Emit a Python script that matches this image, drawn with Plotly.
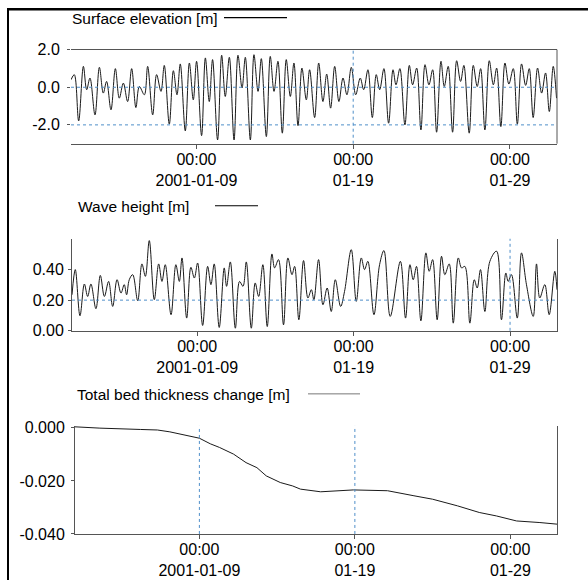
import pandas as pd
import plotly.graph_objects as go

# ---------------- data (days after 2001-01-01 00:00) ----------------
START = "2001-01-01"

elev_days = [0.00, 0.21, 0.49, 0.79, 1.00, 1.21, 1.53, 1.81, 2.06, 2.27, 2.55, 2.83, 3.08, 3.34,
             3.61, 3.87, 4.14, 4.36, 4.68, 4.89, 5.21, 5.46, 5.74, 5.95, 6.27, 6.53, 6.76, 6.97,
             7.29, 7.55, 7.80, 8.01, 8.33, 8.57, 8.82, 9.03, 9.35, 9.61, 9.84, 10.10,
             10.40, 10.65, 10.91, 11.12, 11.44, 11.67, 11.93, 12.14, 12.46, 12.71, 12.95, 13.20,
             13.48, 13.73, 13.99, 14.22, 14.48, 14.73, 15.01, 15.22, 15.54, 15.80, 16.07, 16.31,
             16.56, 16.82, 17.09, 17.35, 17.60, 17.88, 18.16, 18.45, 18.67, 18.94, 19.22, 19.47,
             19.69, 19.96, 20.26, 20.54,
             20.73, 20.98, 21.30, 21.58, 21.79, 22.05, 22.32, 22.58, 22.83, 23.07, 23.32, 23.60,
             23.81, 24.06, 24.34, 24.60, 24.85, 25.06, 25.40, 25.66, 25.91, 26.13, 26.40, 26.68,
             26.94, 27.15, 27.42, 27.68, 27.93, 28.21, 28.47, 28.74, 29.00, 29.23, 29.48, 29.76,
             30.02, 30.27, 30.51, 30.76, 30.97]
elev_vals = [0.40, 0.67, -1.79, 1.11, -0.13, 0.49, -1.47, 1.06, -0.31, 0.31, -1.20, 0.99, -0.58, 0.22,
             -0.76, 0.99, -1.08, 0.04, -0.40, 1.11, -1.47, 0.67, -0.22, 1.16, -1.96, 0.88, -0.40, 1.24,
             -2.32, 1.29, -0.67, 1.38, -2.57, 1.56, -0.76, 1.47, -2.80, 1.70, -0.49, 1.59,
             -2.80, 1.70, -0.04, 1.59, -2.80, 1.73, -0.22, 1.52, -2.62, 1.64, -0.22, 1.38,
             -2.44, 1.47, -0.49, 1.29, -2.04, 1.02, -0.67, 0.93, -1.61, 1.29, -0.76, 0.70,
             -1.11, 1.11, -0.76, 0.49, -0.40, 1.06, -0.40, 0.49, -0.13, 0.93, -1.61, 0.67,
             -0.13, 0.99, -1.91, 0.93,
             0.13, 0.99, -2.00, 1.16, 0.13, 1.02, -2.27, 1.20, 0.13, 0.93, -2.39, 1.38,
             0.04, 1.11, -2.39, 1.41, 0.31, 1.16, -2.44, 1.16, 0.04, 0.99, -2.27, 1.41,
             0.13, 1.02, -2.09, 1.29, 0.17, 0.99, -1.96, 1.24, 0.10, 0.99, -1.61, 1.02,
             -0.31, 0.76, -1.29, 1.11, -0.58]

wave_days = [0.00, 0.21, 0.51, 0.79, 1.00, 1.21, 1.53, 1.81, 2.07, 2.34, 2.60, 2.88, 3.13, 3.34,
             3.49, 3.66, 3.88, 4.20, 4.47, 4.69, 4.94, 5.26, 5.54, 5.75, 5.96, 6.33, 6.64, 6.86,
             7.03, 7.33, 7.60, 7.82, 8.03, 8.35, 8.67, 8.88, 9.09, 9.41, 9.73, 9.88, 10.12, 10.44,
             10.71, 10.93, 11.14, 11.46, 11.71, 11.93, 12.20, 12.48, 12.78, 12.95, 13.20, 13.52,
             13.80, 14.06, 14.23, 14.50, 14.80, 15.08, 15.30, 15.46, 15.76, 16.04, 16.31, 16.57,
             16.83, 17.17, 17.42, 17.85, 18.17, 18.49, 18.70, 18.91, 19.30, 19.66, 19.94, 20.34,
             20.99, 21.32, 21.60, 21.81, 22.02, 22.30, 22.62, 22.83, 23.05, 23.34, 23.62, 23.83,
             24.11, 24.37, 24.69, 24.90, 25.11, 25.43, 25.71, 25.90, 26.11, 26.39, 26.71, 27.14,
             27.45, 27.73, 27.88, 28.09, 28.46, 28.73, 29.05, 29.48, 29.69, 29.90, 30.22, 30.50,
             30.86, 31.00]
wave_vals = [0.235, 0.399, 0.098, 0.305, 0.224, 0.305, 0.144, 0.361, 0.224, 0.322, 0.159, 0.333, 0.246, 0.301,
             0.235, 0.333, 0.366, 0.196, 0.436, 0.355, 0.588, 0.203, 0.436, 0.322, 0.431, 0.105, 0.431, 0.322,
             0.475, 0.083, 0.414, 0.344, 0.442, 0.035, 0.420, 0.301, 0.436, 0.022, 0.410, 0.290, 0.449, 0.017,
             0.322, 0.290, 0.449, 0.017, 0.312, 0.224, 0.431, 0.028, 0.501, 0.410, 0.464, 0.039,
             0.475, 0.366, 0.420, 0.072, 0.458, 0.214, 0.268, 0.203, 0.464, 0.170, 0.279, 0.126,
             0.333, 0.159, 0.257, 0.529, 0.192, 0.475, 0.399, 0.453, 0.105, 0.431, 0.523, 0.094,
             0.453, 0.083, 0.431, 0.333, 0.420, 0.065, 0.508, 0.388, 0.464, 0.072, 0.486, 0.366,
             0.436, 0.050, 0.475, 0.410, 0.420, 0.050, 0.333, 0.279, 0.399, 0.126, 0.453, 0.519,
             0.072, 0.377, 0.322, 0.366, 0.083, 0.508, 0.300, 0.094, 0.436, 0.214, 0.301, 0.105,
             0.388, 0.268]

bed_days = [0.0, 1.6, 4.2, 5.3, 6.1, 7.2, 8.0, 8.7, 9.3, 10.2, 11.0, 11.7, 12.3, 13.2, 14.0, 14.5,
            15.8, 17.9, 20.1, 21.8, 23.0, 24.6, 26.0, 27.1, 28.4, 29.9, 31.0]
bed_vals = [0.0004, -0.0001, -0.0006, -0.0008, -0.0015, -0.0030, -0.0039, -0.0060, -0.0074, -0.0099,
            -0.0131, -0.0150, -0.0181, -0.0206, -0.0219, -0.0231, -0.0241, -0.0234, -0.0237, -0.0256,
            -0.0269, -0.0294, -0.0319, -0.0332, -0.0351, -0.0357, -0.0363]

titles = ["Surface elevation [m]", "Wave height [m]", "Total bed thickness change [m]"]

x_tick_dates = ["2001-01-09", "2001-01-19", "2001-01-29"]
x_tick_text = ["00:00<br>2001-01-09", "00:00<br>01-19", "00:00<br>01-29"]
x_range = ["2001-01-01", "2001-02-01"]

elev_ticks = [2.0, 0.0, -2.0]
elev_tick_text = ["2.0", "0.0", "-2.0"]
wave_ticks = [0.0, 0.2, 0.4]
wave_tick_text = ["0.00", "0.20", "0.40"]
bed_ticks = [0.0, -0.02, -0.04]
bed_tick_text = ["0.000", "-0.020", "-0.040"]

# reference (dotted) lines
elev_hlines = [0.0, -2.0]
elev_vlines = ["2001-01-19"]
wave_hlines = [0.2]
wave_vlines = ["2001-01-29"]
bed_vlines = ["2001-01-09", "2001-01-19"]

# ---------------- figure ----------------
W, H = 588, 600
# vertical placement: photographed y = A + B * figure y (measured from earlier renders)
A, B = 7.4, 0.971
def px(x):
    return x / W
def py(y):
    return 1 - ((y - A) / B) / H

def to_time(days):
    return pd.Timestamp(START) + pd.to_timedelta(days, unit="D")

FONT = "Arial, Liberation Sans, sans-serif"
LINE_C = "#1a1a1a"
FRAME_C = "#555555"
REF_C = "#4f8fc9"

fig = go.Figure()
fig.add_trace(go.Scatter(x=to_time(elev_days), y=elev_vals, mode="lines",
                         line=dict(color=LINE_C, width=1, shape="spline", smoothing=1.0),
                         xaxis="x", yaxis="y", showlegend=False))
fig.add_trace(go.Scatter(x=to_time(wave_days), y=wave_vals, mode="lines",
                         line=dict(color=LINE_C, width=1, shape="spline", smoothing=1.0),
                         xaxis="x2", yaxis="y2", showlegend=False))
fig.add_trace(go.Scatter(x=to_time(bed_days), y=bed_vals, mode="lines",
                         line=dict(color=LINE_C, width=1),
                         xaxis="x3", yaxis="y3", showlegend=False))

tickfont = dict(family=FONT, size=16, color="black")

def xax(domain, anchor, mirror):
    return dict(domain=domain, anchor=anchor, type="date", range=x_range,
                tickmode="array", tickvals=x_tick_dates, ticktext=x_tick_text,
                ticks="outside", ticklen=4, tickcolor=FRAME_C, tickfont=tickfont,
                ticklabelstandoff=-3,
                showline=True, linecolor=FRAME_C, linewidth=1, mirror=mirror,
                showgrid=False, zeroline=False, fixedrange=True)

def yax(domain, anchor, rng, vals, text, showline, standoff):
    return dict(domain=domain, anchor=anchor, range=rng, tickmode="array",
                tickvals=vals, ticktext=text, ticks="outside", ticklen=3,
                tickcolor=FRAME_C, tickfont=tickfont, showline=showline,
                ticklabelstandoff=standoff,
                linecolor=FRAME_C, linewidth=1, mirror=showline,
                showgrid=False, zeroline=False, fixedrange=True)

fig.update_layout(
    width=W, height=H, autosize=False,
    margin=dict(l=0, r=0, t=0, b=0),
    paper_bgcolor="white", plot_bgcolor="white",
    font=dict(family=FONT, color="black"),
    xaxis=xax([px(71), px(557)], "y", True),
    yaxis=yax([py(143), py(49)], "x", [-3.0, 2.0], elev_ticks, elev_tick_text, False, 4),
    xaxis2=xax([px(72), px(557)], "y2", False),
    yaxis2=yax([py(330), py(238)], "x2", [0.0, 0.6], wave_ticks, wave_tick_text, True, 1),
    xaxis3=xax([px(75), px(557)], "y3", False),
    yaxis3=yax([py(533), py(425)], "x3", [-0.040, 0.00075], bed_ticks, bed_tick_text, True, 3),
)

shapes = []
# right frame line of panel 1
shapes.append(dict(type="line", xref="x domain", yref="y domain", x0=1, x1=1, y0=0, y1=1,
                   line=dict(color=FRAME_C, width=1)))
# dotted reference lines
for v in elev_hlines:
    shapes.append(dict(type="line", xref="x domain", yref="y", x0=0, x1=1, y0=v, y1=v,
                       line=dict(color=REF_C, width=1, dash="dot")))
for d in elev_vlines:
    shapes.append(dict(type="line", xref="x", yref="y domain", x0=d, x1=d, y0=0, y1=1,
                       line=dict(color=REF_C, width=1, dash="dot")))
for v in wave_hlines:
    shapes.append(dict(type="line", xref="x2 domain", yref="y2", x0=0, x1=1, y0=v, y1=v,
                       line=dict(color=REF_C, width=1, dash="dot")))
for d in wave_vlines:
    shapes.append(dict(type="line", xref="x2", yref="y2 domain", x0=d, x1=d, y0=0, y1=1,
                       line=dict(color=REF_C, width=1, dash="dot")))
for d in bed_vlines:
    shapes.append(dict(type="line", xref="x3", yref="y3 domain", x0=d, x1=d, y0=0, y1=1,
                       line=dict(color=REF_C, width=1, dash="dot")))

# legend sample lines next to titles
legend_lines = [((224, 287, 17), "black", 1.2), ((215, 258, 205), "black", 1.2), ((308, 360, 393), "#777777", 1)]
for (x0, x1, y), c, w in legend_lines:
    shapes.append(dict(type="line", xref="paper", yref="paper", x0=px(x0), x1=px(x1),
                       y0=py(y), y1=py(y), line=dict(color=c, width=w)))

# outer frame (top and left edges)
shapes.append(dict(type="line", xref="paper", yref="paper", x0=px(7), x1=1, y0=1 - 1.2 / H, y1=1 - 1.2 / H,
                   line=dict(color="black", width=2.5)))
shapes.append(dict(type="line", xref="paper", yref="paper", x0=px(8), x1=px(8), y0=1 - 1.2 / H, y1=0,
                   line=dict(color="black", width=2)))
fig.update_layout(shapes=shapes)

title_pos = [(70, 18), (76, 206), (75, 394)]
for t, (x, y) in zip(titles, title_pos):
    fig.add_annotation(text=t, xref="paper", yref="paper", x=px(x), y=py(y),
                       xanchor="left", yanchor="middle", showarrow=False,
                       font=dict(family=FONT, size=15.5, color="black"))

# place the figure at the window's top-left corner (no default body margin)
fig.write_html("out.html", config={"displayModeBar": False},
               post_script="document.body.style.margin='0';document.body.style.overflow='hidden';")
